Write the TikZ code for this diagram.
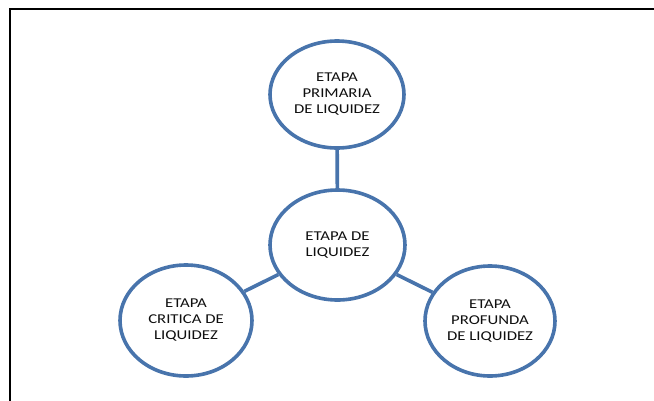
\documentclass[tikz,border=0pt]{standalone}
\usepackage{fontspec}
\newfontfamily\labfont[FakeStretch=1.24]{Carlito}
\usetikzlibrary{shapes.geometric}
\definecolor{ringblue}{RGB}{72,116,172}
\definecolor{txt}{RGB}{15,15,15}
\tikzset{
  stage/.style={ellipse, draw=ringblue, line width=3.6pt, fill=white, inner sep=0pt,
    align=center, text=txt, font=\labfont\fontsize{13.5}{16}\selectfont},
  link/.style={draw=ringblue, line width=3.6pt},
  frame/.style={draw=black, line width=2.8pt}
}
\begin{document}
\begin{tikzpicture}[x=1pt,y=-1pt]
\useasboundingbox (0,0) rectangle (654,400);
\coordinate (fa) at (10,9);
\coordinate (fb) at (660,9);
\coordinate (fc) at (10,406);
\draw[frame] (fc) -- (fa) -- (fb);
\node[stage, minimum width=134pt, minimum height=107pt] (top) at (337,94.5) {ETAPA\\PRIMARIA\\DE LIQUIDEZ};
\node[stage, minimum width=135pt, minimum height=110pt] (mid) at (337.5,245) {ETAPA DE\\LIQUIDEZ};
\node[stage, minimum width=132pt, minimum height=111pt] (left) at (186,320.5) {ETAPA\\CRITICA DE\\LIQUIDEZ};
\node[stage, minimum width=130pt, minimum height=110pt] (right) at (490,321) {ETAPA\\PROFUNDA\\DE LIQUIDEZ};
\draw[link] (top) -- (mid);
\draw[link] (mid) -- (left);
\draw[link] (mid) -- (right);
\end{tikzpicture}
\end{document}
